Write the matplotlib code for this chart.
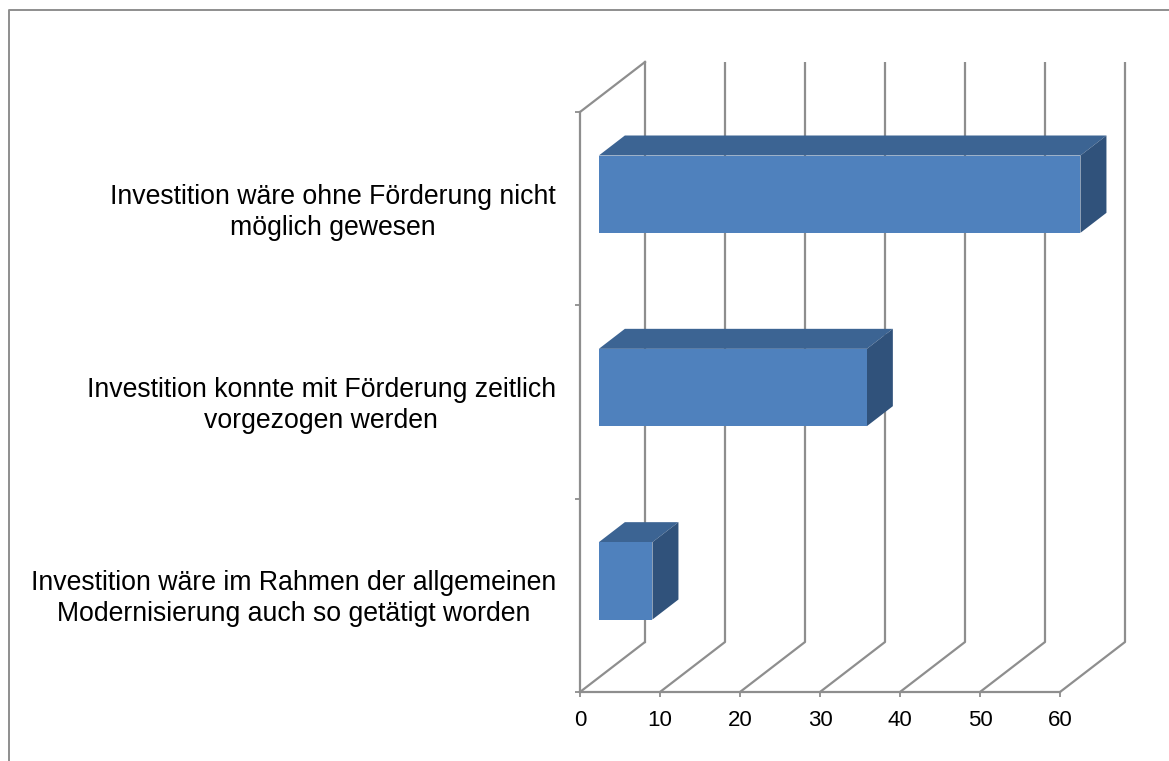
import numpy as np
import matplotlib
matplotlib.use('Agg')
import matplotlib.pyplot as plt
from matplotlib.lines import Line2D
from matplotlib.patches import Polygon

categories = [
    'Investition wäre ohne Förderung nicht\nmöglich gewesen',
    'Investition konnte mit Förderung zeitlich\nvorgezogen werden',
    'Investition wäre im Rahmen der allgemeinen\nModernisierung auch so getätigt worden',
]
values = [60.2, 33.5, 6.7]
x_ticks = [0, 10, 20, 30, 40, 50, 60]

GREY = '#8e8e8e'
FRONT = '#4f81bd'
TOP = '#3c6493'
SIDE = '#30527b'

W, H = 1169, 761
X0, Y0, X1, Y1 = 580, 692, 1060, 112  # plot floor/wall corners in pixels
DEPTH_X = 65 / 80 * 10  # wall depth in x units
DEPTH_Y = 50 / (Y0 - Y1) * 3  # wall depth in category units
BAR_NEAR, BAR_FAR = 0.29, 0.69
BAR_H = 0.4
LW = 1.6
LABEL_SHIFT = 0.01  # labels sit about 2px above the category centre


def project(x, y, d):
    """Shift a point backwards into the fake 3D depth."""
    return x + d * DEPTH_X, y + d * DEPTH_Y


plt.rcParams['font.family'] = ['Liberation Sans', 'DejaVu Sans']
fig = plt.figure(figsize=(W / 100, H / 100), dpi=100)
ax = fig.add_axes([X0 / W, 1 - Y0 / H, (X1 - X0) / W, (Y0 - Y1) / H])
ax.set_xlim(0, 60)
ax.set_ylim(0, 3)

# outer chart frame, open at the bottom and right
fig.add_artist(Line2D([8.5 / W, 8.5 / W, 1], [0, 1 - 9.5 / H, 1 - 9.5 / H],
                      color=GREY, lw=1.4, transform=fig.transFigure))

# walls and gridlines
for x in x_ticks:
    xs, ys = zip(project(x, 0, 0), project(x, 0, 1), project(x, 3, 1))
    ax.plot(xs if x else xs[:2], ys if x else ys[:2], color=GREY, lw=LW,
            clip_on=False, zorder=1, solid_capstyle='butt')
    if x == 0:
        ax.plot(xs[1:], ys[1:], color=GREY, lw=LW, clip_on=False, zorder=1)
xs, ys = zip(project(0, 3, 1), project(0, 3, 0))
ax.plot(xs, ys, color=GREY, lw=LW, clip_on=False, zorder=1)

# bars, first category on top
centers = 2.5 - np.arange(len(values))
for value, c in zip(values, centers):
    lo, hi = c - BAR_H / 2, c + BAR_H / 2
    front = [project(0, lo, BAR_NEAR), project(value, lo, BAR_NEAR),
             project(value, hi, BAR_NEAR), project(0, hi, BAR_NEAR)]
    top = [project(0, hi, BAR_NEAR), project(value, hi, BAR_NEAR),
           project(value, hi, BAR_FAR), project(0, hi, BAR_FAR)]
    side = [project(value, lo, BAR_NEAR), project(value, lo, BAR_FAR),
            project(value, hi, BAR_FAR), project(value, hi, BAR_NEAR)]
    for pts, col in [(top, TOP), (side, SIDE), (front, FRONT)]:
        ax.add_patch(Polygon(pts, closed=True, facecolor=col, edgecolor='none',
                             clip_on=False, zorder=3))

for name in ['top', 'right']:
    ax.spines[name].set_visible(False)
for name in ['left', 'bottom']:
    ax.spines[name].set_color(GREY)
    ax.spines[name].set_linewidth(LW)

ax.set_xticks(x_ticks)
ax.set_yticks([0, 1, 2, 3])
ax.set_yticklabels([])
ax.set_yticks(centers + LABEL_SHIFT, minor=True)
ax.set_yticklabels(categories, minor=True, ma='center', fontsize=19.2,
                   linespacing=1.24)
ax.tick_params(axis='y', which='minor', length=0, pad=17.3)
ax.tick_params(axis='y', which='major', length=3.5, width=1.3, color=GREY)
ax.tick_params(axis='x', length=3.5, width=1.3, color=GREY, labelsize=16, pad=9.5)

fig.savefig('out.png', dpi=100)
